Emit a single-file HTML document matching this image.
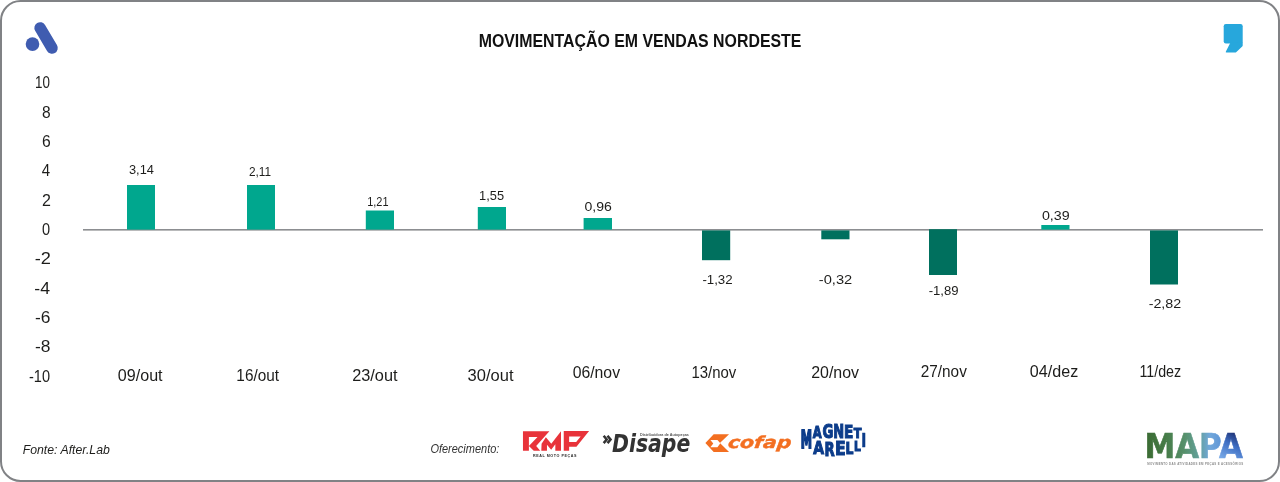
<!DOCTYPE html>
<html lang="pt-BR">
<head>
<meta charset="utf-8">
<title>Movimentação em Vendas Nordeste</title>
<style>
html,body{margin:0;padding:0;background:#fff;}
body{width:1280px;height:482px;overflow:hidden;font-family:"Liberation Sans",sans-serif;}
svg{display:block;}
svg text{font-family:"Liberation Sans",sans-serif;}
</style>
</head>
<body>
<svg width="1280" height="482" viewBox="0 0 1280 482">
<defs>
<linearGradient id="mapaG" x1="0" y1="0" x2="1" y2="0">
<stop offset="0" stop-color="#3a6a32"/>
<stop offset="0.2" stop-color="#457a45"/>
<stop offset="0.4" stop-color="#56906a"/>
<stop offset="0.55" stop-color="#62a09a"/>
<stop offset="0.66" stop-color="#72a8db"/>
<stop offset="0.8" stop-color="#5b92d6"/>
<stop offset="1" stop-color="#3a62b8"/>
</linearGradient>
<linearGradient id="mapaA" gradientUnits="userSpaceOnUse" x1="1236" y1="432" x2="1222" y2="458">
<stop offset="0" stop-color="#1c2d6e"/>
<stop offset="0.45" stop-color="#3f6fc4"/>
<stop offset="1" stop-color="#77a8e6"/>
</linearGradient>
</defs>
<rect x="0" y="0" width="1280" height="482" fill="#ffffff"/>
<rect x="1" y="1" width="1278" height="480" rx="19.5" ry="19.5" fill="#ffffff" stroke="#808285" stroke-width="2"/>

<g fill="#3f5cb0" stroke="none"><circle cx="32.5" cy="44.1" r="6.8"/></g>
<line x1="40.1" y1="27.9" x2="52" y2="48" stroke="#3f5cb0" stroke-width="11.5" stroke-linecap="round"/>
<g fill="#27a7dc"><rect x="1223.7" y="24" width="19" height="19.5" rx="2.2"/><path d="M1242.7 42 L1242.7 45.4 Q1242.7 46 1242.2 46.5 L1236.4 52 Q1235.8 52.5 1235 52.5 L1226.4 52.5 Q1225.3 52.5 1225.9 51.4 L1230.2 43 Z"/></g>
<text x="478.67" y="46.70" font-size="18.40" font-weight="700" fill="#111111" textLength="322.71" lengthAdjust="spacingAndGlyphs">MOVIMENTAÇÃO EM VENDAS NORDESTE</text>
<text x="35.09" y="88.15" font-size="15.70" fill="#1d1d1b" textLength="14.91" lengthAdjust="spacingAndGlyphs">10</text>
<text x="42.00" y="117.86" font-size="15.70" fill="#1d1d1b" textLength="8.64" lengthAdjust="spacingAndGlyphs">8</text>
<text x="41.92" y="147.17" font-size="15.70" fill="#1d1d1b" textLength="8.73" lengthAdjust="spacingAndGlyphs">6</text>
<text x="41.70" y="176.48" font-size="15.70" fill="#1d1d1b" textLength="8.37" lengthAdjust="spacingAndGlyphs">4</text>
<text x="41.90" y="205.79" font-size="15.70" fill="#1d1d1b" textLength="8.92" lengthAdjust="spacingAndGlyphs">2</text>
<text x="42.02" y="235.10" font-size="15.70" fill="#1d1d1b" textLength="8.11" lengthAdjust="spacingAndGlyphs">0</text>
<text x="34.68" y="264.41" font-size="15.70" fill="#1d1d1b" textLength="16.22" lengthAdjust="spacingAndGlyphs">-2</text>
<text x="34.30" y="293.72" font-size="15.70" fill="#1d1d1b" textLength="15.71" lengthAdjust="spacingAndGlyphs">-4</text>
<text x="35.02" y="323.03" font-size="15.70" fill="#1d1d1b" textLength="15.46" lengthAdjust="spacingAndGlyphs">-6</text>
<text x="35.02" y="352.34" font-size="15.70" fill="#1d1d1b" textLength="15.46" lengthAdjust="spacingAndGlyphs">-8</text>
<text x="28.94" y="381.65" font-size="15.70" fill="#1d1d1b" textLength="21.07" lengthAdjust="spacingAndGlyphs">-10</text>
<rect x="83" y="229.1" width="1180" height="1.45" fill="#808285"/>
<rect x="127" y="185" width="28.0" height="44.6" fill="#00a78e"/>
<rect x="247" y="185" width="28.0" height="44.6" fill="#00a78e"/>
<rect x="365.8" y="210.5" width="28.2" height="19.1" fill="#00a78e"/>
<rect x="477.8" y="207" width="28.2" height="22.6" fill="#00a78e"/>
<rect x="583.6" y="218" width="28.4" height="11.6" fill="#00a78e"/>
<rect x="702" y="230.4" width="28.2" height="29.8" fill="#00705e"/>
<rect x="821.3" y="230.4" width="28.2" height="8.9" fill="#00705e"/>
<rect x="929" y="229.2" width="28.0" height="45.8" fill="#00705e"/>
<rect x="1041.3" y="225" width="28.2" height="4.6" fill="#00a78e"/>
<rect x="1150" y="230.4" width="28.0" height="54.1" fill="#00705e"/>
<text x="128.99" y="173.80" font-size="13.50" fill="#1d1d1b" textLength="24.91" lengthAdjust="spacingAndGlyphs">3,14</text>
<text x="248.91" y="175.80" font-size="13.50" fill="#1d1d1b" textLength="22.15" lengthAdjust="spacingAndGlyphs">2,11</text>
<text x="367.18" y="205.80" font-size="13.50" fill="#1d1d1b" textLength="21.33" lengthAdjust="spacingAndGlyphs">1,21</text>
<text x="479.04" y="200.30" font-size="13.50" fill="#1d1d1b" textLength="24.99" lengthAdjust="spacingAndGlyphs">1,55</text>
<text x="584.44" y="211.00" font-size="13.50" fill="#1d1d1b" textLength="27.34" lengthAdjust="spacingAndGlyphs">0,96</text>
<text x="702.40" y="283.90" font-size="13.50" fill="#1d1d1b" textLength="30.25" lengthAdjust="spacingAndGlyphs">-1,32</text>
<text x="818.84" y="283.90" font-size="13.50" fill="#1d1d1b" textLength="33.38" lengthAdjust="spacingAndGlyphs">-0,32</text>
<text x="928.71" y="295.40" font-size="13.50" fill="#1d1d1b" textLength="29.87" lengthAdjust="spacingAndGlyphs">-1,89</text>
<text x="1041.93" y="219.80" font-size="13.50" fill="#1d1d1b" textLength="27.73" lengthAdjust="spacingAndGlyphs">0,39</text>
<text x="1148.66" y="308.20" font-size="13.50" fill="#1d1d1b" textLength="32.55" lengthAdjust="spacingAndGlyphs">-2,82</text>
<text x="117.86" y="380.60" font-size="15.80" fill="#1d1d1b" textLength="44.73" lengthAdjust="spacingAndGlyphs">09/out</text>
<text x="236.35" y="380.60" font-size="15.80" fill="#1d1d1b" textLength="42.73" lengthAdjust="spacingAndGlyphs">16/out</text>
<text x="352.18" y="380.60" font-size="15.80" fill="#1d1d1b" textLength="45.40" lengthAdjust="spacingAndGlyphs">23/out</text>
<text x="467.64" y="380.60" font-size="15.80" fill="#1d1d1b" textLength="45.95" lengthAdjust="spacingAndGlyphs">30/out</text>
<text x="572.67" y="377.90" font-size="15.80" fill="#1d1d1b" textLength="47.37" lengthAdjust="spacingAndGlyphs">06/nov</text>
<text x="691.38" y="377.90" font-size="15.80" fill="#1d1d1b" textLength="44.86" lengthAdjust="spacingAndGlyphs">13/nov</text>
<text x="811.20" y="377.90" font-size="15.80" fill="#1d1d1b" textLength="47.84" lengthAdjust="spacingAndGlyphs">20/nov</text>
<text x="920.73" y="376.90" font-size="15.80" fill="#1d1d1b" textLength="46.11" lengthAdjust="spacingAndGlyphs">27/nov</text>
<text x="1029.86" y="376.90" font-size="15.80" fill="#1d1d1b" textLength="48.41" lengthAdjust="spacingAndGlyphs">04/dez</text>
<text x="1139.43" y="376.90" font-size="15.80" fill="#1d1d1b" textLength="41.76" lengthAdjust="spacingAndGlyphs">11/dez</text>
<text x="22.73" y="453.70" font-size="12.40" font-style="italic" fill="#1d1d1b" textLength="87.06" lengthAdjust="spacingAndGlyphs">Fonte: After.Lab</text>
<text x="430.40" y="452.80" font-size="12.50" font-style="italic" fill="#333333" textLength="68.99" lengthAdjust="spacingAndGlyphs">Oferecimento:</text>
<g fill="#e8333a" fill-rule="evenodd"><path transform="translate(520 428) scale(0.05394)" d="M55 60 L545 60 L300 335 L375 420 L255 420 L165 335 L165 420 L55 420 Z M165 165 L325 165 L165 335 Z"/><path transform="translate(520 428) scale(0.05394)" d="M395 420 L400 290 L480 170 L580 290 L760 60 L760 420 L655 420 L655 300 L578 405 L500 310 L500 420 Z"/><path transform="translate(515 425) scale(0.076775)" d="M635 78 L965 78 L800 282 L705 282 L705 335 L635 335 Z M705 150 L855 150 L797 222 L705 222 Z"/></g>
<text x="532.9" y="456.7" font-size="3.7" font-weight="700" fill="#2a2a2a" textLength="43.6" lengthAdjust="spacing">REAL MOTO PEÇAS</text>
<g transform="translate(595 422) scale(0.08299)" fill="#333333"><path d="M93 176 L116 156 L161 210 L116 264 L93 244 L122 210 Z"/><path d="M139 176 L162 156 L207 210 L162 264 L139 244 L168 210 Z"/></g>
<text x="611.99" y="451.60" font-size="24.40" style="font-family:'DejaVu Sans','Liberation Sans',sans-serif" font-weight="700" font-style="italic" fill="#333333" textLength="78.36" lengthAdjust="spacingAndGlyphs">Disape</text>
<text x="639.96" y="436.00" font-size="3.90" font-weight="700" fill="#555555" textLength="49.00" lengthAdjust="spacingAndGlyphs">Distribuidora de Autopeças</text>
<g transform="translate(700 425) scale(0.08299)" fill="#f36f21"><path fill-rule="evenodd" d="M65 218 L165 112 L350 112 L240 218 L350 325 L165 325 Z M125 180 L210 180 L245 220 L210 268 L125 268 L160 222 Z"/></g>
<g transform="translate(0 448) skewX(-7) translate(0 -448)"><text x="727.48" y="447.90" font-size="16.50" style="font-family:'DejaVu Sans','Liberation Sans',sans-serif" font-weight="700" font-style="italic" fill="#f36f21" textLength="63.44" lengthAdjust="spacingAndGlyphs" stroke="#f36f21" stroke-width="0.4" stroke-linejoin="round">cofap</text></g>
<text transform="translate(800.85 447.96) scale(0.4423 1)" font-size="25.59" style="font-family:'DejaVu Sans','Liberation Sans',sans-serif" font-weight="700" stroke="#0c3c8a" stroke-width="1.7" stroke-linejoin="miter" vector-effect="non-scaling-stroke" fill="#0c3c8a">M</text>
<text transform="translate(812.85 438.23) scale(0.7532 1)" font-size="15.28" style="font-family:'DejaVu Sans','Liberation Sans',sans-serif" font-weight="700" stroke="#0c3c8a" stroke-width="1.0" stroke-linejoin="miter" vector-effect="non-scaling-stroke" fill="#0c3c8a">A</text>
<text transform="translate(822.52 438.23) scale(0.7117 1)" font-size="18.61" style="font-family:'DejaVu Sans','Liberation Sans',sans-serif" font-weight="700" stroke="#0c3c8a" stroke-width="1.0" stroke-linejoin="miter" vector-effect="non-scaling-stroke" fill="#0c3c8a">G</text>
<text transform="translate(833.21 438.23) scale(0.6716 1)" font-size="19.38" style="font-family:'DejaVu Sans','Liberation Sans',sans-serif" font-weight="700" stroke="#0c3c8a" stroke-width="1.0" stroke-linejoin="miter" vector-effect="non-scaling-stroke" fill="#0c3c8a">N</text>
<text transform="translate(843.89 438.23) scale(0.7790 1)" font-size="17.58" style="font-family:'DejaVu Sans','Liberation Sans',sans-serif" font-weight="700" stroke="#0c3c8a" stroke-width="1.0" stroke-linejoin="miter" vector-effect="non-scaling-stroke" fill="#0c3c8a">E</text>
<text transform="translate(853.75 438.23) scale(0.7807 1)" font-size="14.51" style="font-family:'DejaVu Sans','Liberation Sans',sans-serif" font-weight="700" stroke="#0c3c8a" stroke-width="1.0" stroke-linejoin="miter" vector-effect="non-scaling-stroke" fill="#0c3c8a">T</text>
<text transform="translate(813.31 454.47) scale(0.7933 1)" font-size="17.58" style="font-family:'DejaVu Sans','Liberation Sans',sans-serif" font-weight="700" stroke="#0c3c8a" stroke-width="1.0" stroke-linejoin="miter" vector-effect="non-scaling-stroke" fill="#0c3c8a">A</text>
<text transform="translate(824.61 455.60) scale(0.6902 1)" font-size="19.12" style="font-family:'DejaVu Sans','Liberation Sans',sans-serif" font-weight="700" stroke="#0c3c8a" stroke-width="1.0" stroke-linejoin="miter" vector-effect="non-scaling-stroke" fill="#0c3c8a">R</text>
<text transform="translate(835.03 455.32) scale(0.8365 1)" font-size="18.74" style="font-family:'DejaVu Sans','Liberation Sans',sans-serif" font-weight="700" stroke="#0c3c8a" stroke-width="1.0" stroke-linejoin="miter" vector-effect="non-scaling-stroke" fill="#0c3c8a">E</text>
<text transform="translate(845.40 453.54) scale(0.7631 1)" font-size="16.30" style="font-family:'DejaVu Sans','Liberation Sans',sans-serif" font-weight="700" stroke="#0c3c8a" stroke-width="1.0" stroke-linejoin="miter" vector-effect="non-scaling-stroke" fill="#0c3c8a">L</text>
<text transform="translate(853.97 451.30) scale(0.8047 1)" font-size="13.23" style="font-family:'DejaVu Sans','Liberation Sans',sans-serif" font-weight="700" stroke="#0c3c8a" stroke-width="1.0" stroke-linejoin="miter" vector-effect="non-scaling-stroke" fill="#0c3c8a">L</text>
<text transform="translate(860.91 446.79) scale(0.7289 1)" font-size="20.08" style="font-family:'DejaVu Sans','Liberation Sans',sans-serif" font-weight="700" stroke="#0c3c8a" stroke-width="0.3" stroke-linejoin="miter" vector-effect="non-scaling-stroke" fill="#0c3c8a">I</text>
<text x="1144.52" y="457.70" font-size="34.30" style="font-family:'DejaVu Sans','Liberation Sans',sans-serif" font-weight="700" fill="url(#mapaG)" textLength="98.30" lengthAdjust="spacingAndGlyphs" stroke="url(#mapaG)" stroke-width="0.6" stroke-linejoin="miter">MAP<tspan fill="url(#mapaA)" stroke="url(#mapaA)">A</tspan></text>
<text x="1147.2" y="464.6" font-size="2.9" font-weight="700" fill="#8a8a8a" textLength="96" lengthAdjust="spacing">MOVIMENTO DAS ATIVIDADES EM PEÇAS E ACESSÓRIOS</text>
</svg>
</body>
</html>
